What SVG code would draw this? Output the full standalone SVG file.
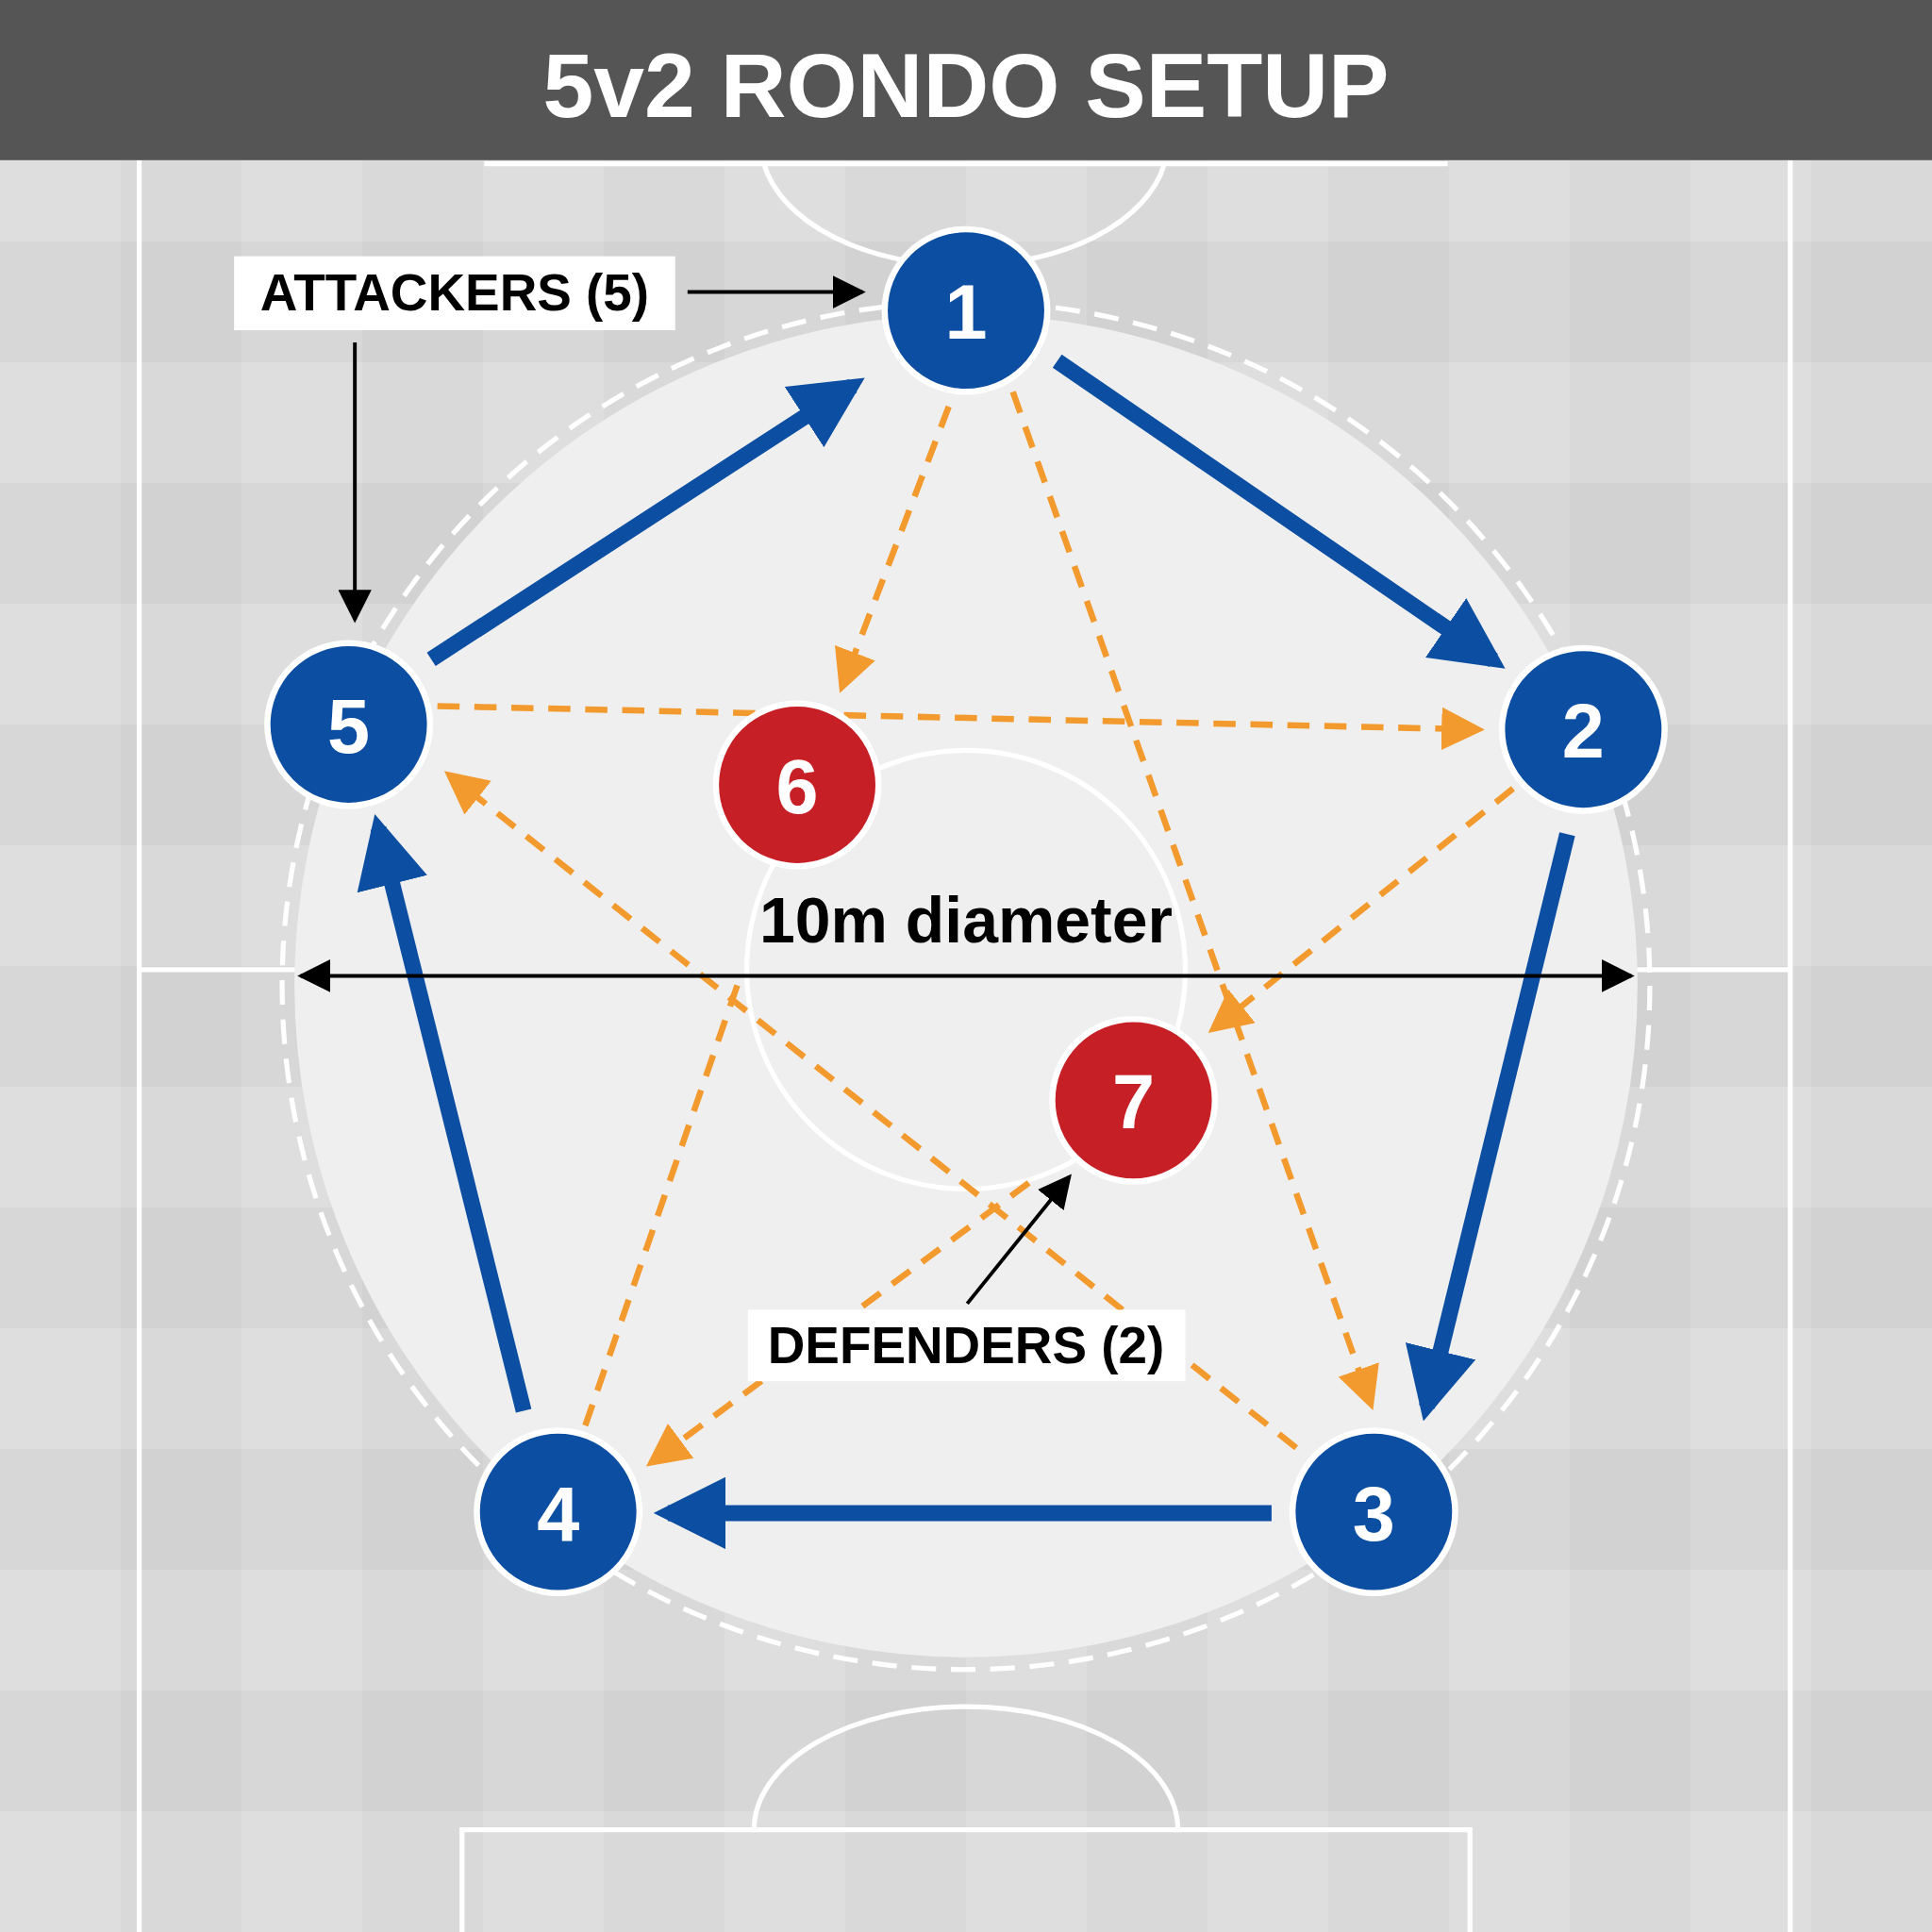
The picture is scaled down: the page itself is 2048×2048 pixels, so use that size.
<svg xmlns="http://www.w3.org/2000/svg" width="2048" height="2048" viewBox="0 0 2048 2048">
<style>
.fl{fill:none;stroke:#fff;stroke-width:4}
.bn{fill:#0b4ea2;stroke:#fff;stroke-width:5}
.rn{fill:#c62026;stroke:#fff;stroke-width:5}
.nt{font-family:"Liberation Sans",Arial,sans-serif;font-weight:bold;font-size:62px;fill:#fff;text-anchor:middle}
.bl{stroke:#0b4ea2;stroke-width:13;fill:none;marker-end:url(#ab)}
.or{stroke:#f39a2e;stroke-width:5;stroke-dasharray:18 12;fill:none}
.ora{marker-end:url(#ao)}
.bk{stroke:#000;stroke-width:3;fill:none}
.lb{font-family:"Liberation Sans",Arial,sans-serif;font-weight:bold;font-size:42px;fill:#000;text-anchor:middle}
</style>
<defs>
<marker id="ab" viewBox="0 0 10 10" refX="8" refY="5" markerWidth="4.5" markerHeight="4.5" orient="auto" markerUnits="strokeWidth"><path d="M0,0L10,5L0,10z" fill="#0b4ea2"/></marker>
<marker id="ao" viewBox="0 0 10 10" refX="8" refY="5" markerWidth="7" markerHeight="7" orient="auto" markerUnits="strokeWidth"><path d="M0,0L10,5L0,10z" fill="#f39a2e"/></marker>
<marker id="ak" viewBox="0 0 10 10" refX="9" refY="5" markerWidth="9" markerHeight="9" orient="auto" markerUnits="strokeWidth"><path d="M0,0L10,5L0,10z" fill="#000"/></marker>
<marker id="aks" viewBox="0 0 10 10" refX="1" refY="5" markerWidth="9" markerHeight="9" orient="auto" markerUnits="strokeWidth"><path d="M10,0L0,5L10,10z" fill="#000"/></marker>
<pattern id="chk" width="196" height="196" patternUnits="userSpaceOnUse"><rect width="196" height="196" fill="#d9d9d9"/><rect width="98" height="196" fill="#fff" opacity="0.12"/><rect width="196" height="98" fill="#000" opacity="0.03"/></pattern>
</defs>
<g transform="scale(1.30612)">
<rect width="1568" height="1568" fill="url(#chk)"/>
<g id="field">
<line class="fl" x1="113" y1="130" x2="113" y2="1568"/>
<line class="fl" x1="1453" y1="130" x2="1453" y2="1568"/>
<line class="fl" x1="113" y1="787" x2="1453" y2="787"/>
<line class="fl" x1="393" y1="133" x2="1175" y2="133"/>
<path class="fl" d="M620,133 A165,100 0 0 0 945,133"/>
<path class="fl" d="M375,1568 V1485 H1193 V1568"/>
<path class="fl" d="M612,1485 A172,100 0 0 1 956,1485"/>
<circle cx="784" cy="800" r="545" fill="#efefef"/>
<circle cx="784" cy="800" r="555" fill="none" stroke="#fff" stroke-width="4" stroke-dasharray="20 12"/>
<circle class="fl" cx="784" cy="787" r="178"/>
</g>
<rect x="0" y="0" width="1568" height="130" fill="#555"/>
<text x="784" y="95" font-family="Liberation Sans,Arial,sans-serif" font-weight="bold" font-size="74" fill="#fff" text-anchor="middle">5v2 RONDO SETUP</text>
<g id="connectors">
<line class="bl" x1="350" y1="535" x2="692" y2="313"/>
<line class="bl" x1="858" y1="293" x2="1212" y2="536"/>
<line class="bl" x1="1272" y1="677" x2="1158" y2="1142"/>
<line class="bl" x1="1032" y1="1228" x2="542" y2="1228"/>
<line class="bl" x1="425" y1="1145" x2="307" y2="672"/>
<line class="or ora" x1="770" y1="330" x2="684" y2="556"/>
<line class="or ora" x1="355" y1="573" x2="1198" y2="592"/>
<line class="or ora" x1="1228" y1="640" x2="986" y2="834"/>
<line class="or ora" x1="1052" y1="1175" x2="366" y2="630"/>
<line class="or ora" x1="822" y1="318" x2="1112" y2="1138"/>
<line class="or" x1="475" y1="1157" x2="600" y2="795"/>
<line class="or ora" x1="835" y1="960" x2="530" y2="1186"/>
<line class="bk" x1="558" y1="237" x2="700" y2="237" marker-end="url(#ak)"/>
<line class="bk" x1="288" y1="278" x2="288" y2="503" marker-end="url(#ak)"/>
<line class="bk" x1="785" y1="1058" x2="868" y2="955" marker-end="url(#ak)"/>
<line class="bk" x1="244" y1="792" x2="1324" y2="792" marker-start="url(#aks)" marker-end="url(#ak)"/>
</g>
<g id="n1"><circle class="bn" cx="784" cy="252" r="66"/><text class="nt" x="784" y="275">1</text></g>
<g id="n2"><circle class="bn" cx="1285" cy="592" r="66"/><text class="nt" x="1285" y="615">2</text></g>
<g id="n3"><circle class="bn" cx="1115" cy="1227" r="66"/><text class="nt" x="1115" y="1250">3</text></g>
<g id="n4"><circle class="bn" cx="453" cy="1227" r="66"/><text class="nt" x="453" y="1250">4</text></g>
<g id="n5"><circle class="bn" cx="283" cy="588" r="66"/><text class="nt" x="283" y="611">5</text></g>
<g id="n6"><circle class="rn" cx="647" cy="637" r="66"/><text class="nt" x="647" y="660">6</text></g>
<g id="n7"><circle class="rn" cx="920" cy="893" r="66"/><text class="nt" x="920" y="916">7</text></g>
<g id="lab-att"><rect x="190" y="208" width="358" height="60" fill="#fff"/><text class="lb" x="369" y="252">ATTACKERS (5)</text></g>
<g id="lab-def"><rect x="607" y="1063" width="355" height="58" fill="#fff"/><text class="lb" x="784" y="1106">DEFENDERS (2)</text></g>
<g id="lab-dia"><text x="784" y="765" font-family="Liberation Sans,Arial,sans-serif" font-weight="bold" font-size="52" fill="#000" text-anchor="middle">10m diameter</text></g>
</g>
</svg>
